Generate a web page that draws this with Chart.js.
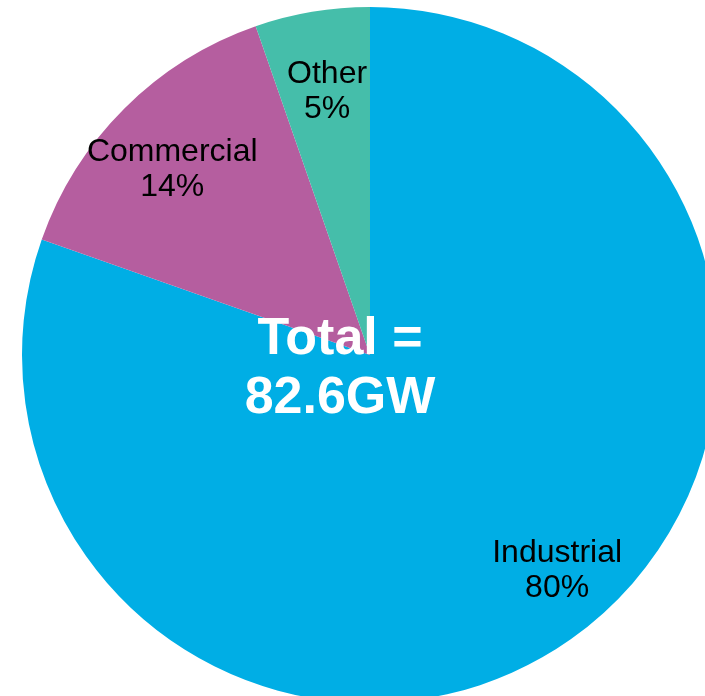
<!DOCTYPE html>
<html>
<head>
<meta charset="utf-8">
<script src="https://cdn.jsdelivr.net/npm/chart.js@4.4.0/dist/chart.umd.min.js"></script>
<style>
  html, body { margin: 0; padding: 0; background: #fff; }
  #wrap { width: 705px; height: 696px; overflow: hidden; position: relative; }
  #pie { position: absolute; left: 0; top: 0; }
</style>
</head>
<body>
<div id="wrap"><canvas id="pie" width="740" height="711"></canvas></div>
<script>
// Capacity by sector (GW)
const sectors = ['Industrial', 'Commercial', 'Other'];
const capacityGW = [66.4, 11.8, 4.4];
const shareLabels = ['80%', '14%', '5%'];
const sectorColors = ['#00AEE5', '#B55E9F', '#45BEAA'];
const totalLines = ['Total =', '82.6GW'];

// how far out (fraction of radius) each label sits, plus a small angle nudge (deg)
const labelRadius = [0.84, 0.76, 0.74];
const labelNudge = [-4.5, -3.5, 0];

const sliceLabels = {
  id: 'sliceLabels',
  afterDraw(chart) {
    const ctx = chart.ctx;
    const arcs = chart.getDatasetMeta(0).data;
    ctx.save();
    ctx.textAlign = 'center';
    ctx.textBaseline = 'alphabetic';
    ctx.fillStyle = '#000';
    ctx.font = '32px "Liberation Sans", Arial, sans-serif';
    arcs.forEach((arc, i) => {
      const mid = (arc.startAngle + arc.endAngle) / 2 + labelNudge[i] * Math.PI / 180;
      const r = arc.outerRadius * labelRadius[i];
      const x = arc.x + Math.cos(mid) * r;
      const y = arc.y + Math.sin(mid) * r;
      ctx.fillText(sectors[i], x, y - 18);
      ctx.fillText(shareLabels[i], x, y + 17);
    });

    // total in the middle
    const c = arcs[0];
    ctx.fillStyle = '#fff';
    ctx.font = 'bold 52px "Liberation Sans", Arial, sans-serif';
    ctx.fillText(totalLines[0], c.x - 30, c.y - 1);
    ctx.fillText(totalLines[1], c.x - 30, c.y + 58);
    ctx.restore();
  }
};

new Chart(document.getElementById('pie'), {
  type: 'pie',
  data: {
    labels: sectors,
    datasets: [{
      data: capacityGW,
      backgroundColor: sectorColors,
      borderWidth: 0
    }]
  },
  options: {
    responsive: false,
    animation: false,
    layout: { padding: { left: 22, right: 22, top: 7, bottom: 8 } },
    plugins: {
      legend: { display: false },
      tooltip: { enabled: false }
    }
  },
  plugins: [sliceLabels]
});
</script>
</body>
</html>
